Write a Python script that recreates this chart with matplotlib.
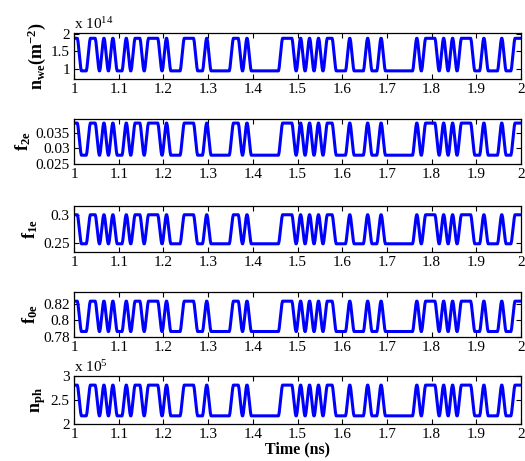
import matplotlib
matplotlib.use('Agg')
import matplotlib.pyplot as plt
import numpy as np

plt.rcParams['font.family'] = 'Liberation Serif'
plt.rcParams['mathtext.fontset'] = 'custom'
plt.rcParams['mathtext.rm'] = 'Liberation Serif'
plt.rcParams['mathtext.bf'] = 'Liberation Serif:bold'
plt.rcParams['mathtext.it'] = 'Liberation Serif:italic'

# switching instants (ns) of the drive pattern, signal is high at t = 1 ns
EDGES = [1.012, 1.032, 1.052, 1.062, 1.072, 1.082, 1.092, 1.112, 1.122, 1.132,
         1.152, 1.162, 1.192, 1.202, 1.212, 1.242, 1.272, 1.292, 1.302, 1.352,
         1.372, 1.382, 1.392, 1.462, 1.492, 1.502, 1.512, 1.522, 1.532, 1.542,
         1.552, 1.562, 1.582, 1.612, 1.622, 1.652, 1.662, 1.682, 1.692, 1.762,
         1.772, 1.782, 1.812, 1.822, 1.832, 1.842, 1.852, 1.862, 1.892, 1.912,
         1.922, 1.952, 1.962, 1.982]
T_START = 1.0
T_END = 2.0

# shape of one transition: time offsets (ns) and fraction of the swing
EDGE_DT = [-0.0045, -0.003, -0.0012, 0.0012, 0.003, 0.0045]
EDGE_FRAC = [0.0, 0.1, 0.35, 0.65, 0.9, 1.0]

# (low, high) level of each quantity
NWE_LEVELS = [0.95e14, 1.87e14]
F2E_LEVELS = [0.0278, 0.0380]
F1E_LEVELS = [0.248, 0.301]
F0E_LEVELS = [0.7866, 0.823]
NPH_LEVELS = [2.17e5, 2.81e5]

XTICKS = [1, 1.1, 1.2, 1.3, 1.4, 1.5, 1.6, 1.7, 1.8, 1.9, 2]
XTICKLABELS = ['1', '1.1', '1.2', '1.3', '1.4', '1.5', '1.6', '1.7', '1.8', '1.9', '2']


def trace(edges, levels):
    # waveform switching between the two levels at every edge
    low, high = levels
    state = 1
    t = [T_START]
    y = [high]
    for e in edges:
        a, b = (high, low) if state else (low, high)
        for dt, f in zip(EDGE_DT, EDGE_FRAC):
            t.append(e + dt)
            y.append(a + (b - a) * f)
        state = 1 - state
    t.append(T_END)
    y.append(high if state else low)
    return np.array(t), np.array(y)


panels = [
    dict(levels=NWE_LEVELS, scale=1e14, exp='14', ylim=(0.72, 2.02),
         yticks=[1, 1.5, 2], ytl=['1', '1.5', '2'],
         label=r'$\mathbf{n}_{\mathbf{we}}\mathbf{(m}^{\mathbf{-2}}\mathbf{)}$'),
    dict(levels=F2E_LEVELS, scale=1, exp=None, ylim=(0.025, 0.0393),
         yticks=[0.025, 0.03, 0.035], ytl=['0.025', '0.03', '0.035'],
         label=r'$\mathbf{f}_{\mathbf{2e}}$'),
    dict(levels=F1E_LEVELS, scale=1, exp=None, ylim=(0.233, 0.317),
         yticks=[0.25, 0.3], ytl=['0.25', '0.3'],
         label=r'$\mathbf{f}_{\mathbf{1e}}$'),
    dict(levels=F0E_LEVELS, scale=1, exp=None, ylim=(0.78, 0.834),
         yticks=[0.78, 0.8, 0.82], ytl=['0.78', '0.8', '0.82'],
         label=r'$\mathbf{f}_{\mathbf{0e}}$'),
    dict(levels=NPH_LEVELS, scale=1e5, exp='5', ylim=(2.0, 3.0),
         yticks=[2, 2.5, 3], ytl=['2', '2.5', '3'],
         label=r'$\mathbf{n}_{\mathbf{ph}}$'),
]

# axes boxes in pixels: (top, bottom)
boxes = [(33, 79), (119, 164), (206, 252), (292, 337), (376, 424)]
W, H = 525, 461
left, right = 74, 521

fig = plt.figure(figsize=(W / 100, H / 100), dpi=100)
for p, (top, bot) in zip(panels, boxes):
    ax = fig.add_axes([left / W, 1 - bot / H, (right - left) / W, (bot - top) / H])
    t, y = trace(EDGES, p['levels'])
    ax.plot(t, y / p['scale'], color='#0000ff', lw=2.2, solid_joinstyle='round')
    ax.set_xlim(1, 2)
    ax.set_ylim(*p['ylim'])
    ax.set_xticks(XTICKS)
    ax.set_xticklabels(XTICKLABELS)
    ax.set_yticks(p['yticks'])
    ax.set_yticklabels(p['ytl'])
    ax.tick_params(direction='in', top=True, right=True, length=3.5,
                   labelsize=11, pad=3, width=0.8)
    ax.set_ylabel(p['label'], fontsize=13, labelpad=2)
    if p['exp']:
        ax.text(0.0, 1.03, r'x 10$^{%s}$' % p['exp'], transform=ax.transAxes,
                ha='left', va='bottom', fontsize=11)
    for s in ax.spines.values():
        s.set_linewidth(0.9)

ax.set_xlabel('Time (ns)', fontsize=11.5, fontweight='bold', labelpad=0)

fig.savefig('out.png', dpi=100)
